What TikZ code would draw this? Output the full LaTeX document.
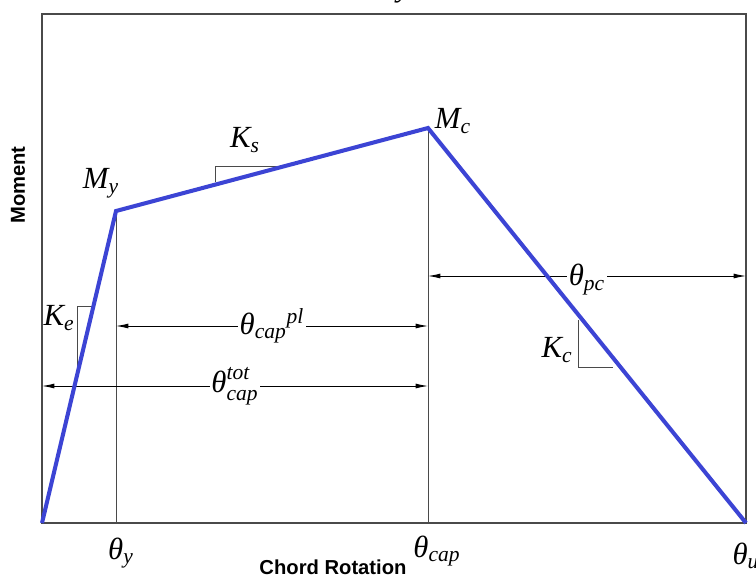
\documentclass[tikz,border=0pt]{standalone}
\usepackage{fontspec}
\setmainfont{Liberation Serif}
\setsansfont{Liberation Sans}
\usepackage{amsmath}
\usepackage{xcolor}
\definecolor{CurveBlue}{HTML}{3C44D4}
\definecolor{FrameGray}{HTML}{4A4A4A}
\usepackage{tikz}
\usetikzlibrary{arrows.meta,positioning}

\begin{document}
\begin{tikzpicture}[x=0.02cm, y=-0.02cm, >={Latex[length=7pt,width=2.8pt]},
  every node/.style={inner sep=1pt, font=\fontsize{17.5}{20}\selectfont},
  axis/.style={font=\sffamily\bfseries\fontsize{11.5}{13}\selectfont},
  guide/.style={FrameGray, line width=0.5pt},
  dim/.style={<->, line width=0.5pt}]
  \useasboundingbox (0,0) rectangle (756,576);
  \coordinate (O) at (42,523);
  \coordinate (T) at (746,14);
  \coordinate (Y) at (116,211);
  \coordinate (C) at (428,128);
  \coordinate (U) at (746,523);
  \coordinate (pc) at (0,276);
  \coordinate (pl) at (0,326);
  \coordinate (tot) at (0,386);
  % frame and guides
  \draw[guide, line width=0.7pt] (O) rectangle (T);
  \draw[guide] (Y) -- (Y |- O);
  \draw[guide] (C) -- (C |- O);
  % dimension lines
  \draw[dim] (C |- pc) -- node[fill=white, yshift=-2pt] {$\textit{θ}_{\textit{pc}}$} (U |- pc);
  \draw[dim] (Y |- pl) -- node[fill=white] {$\textit{θ}_{\textit{cap}}{}^{\textit{pl}}$} (C |- pl);
  \draw[dim] (O |- tot) -- node[fill=white] {$\textit{θ}^{\textit{tot}}_{\textit{cap}}$} (C |- tot);
  % slope marks
  \draw[guide] (77,370) -- (77,306) -- (92,306);
  \draw[guide] (215,182) -- (215,166) -- (280,166);
  \draw[guide] (578,320) -- (578,367) -- (613,367);
  % backbone curve
  \draw[CurveBlue, line width=2.3pt, line join=miter] (O) -- (Y) -- (C) -- (U);
  % labels
  \node (my) at (101,183) {$\textit{M}_{\textit{y}}$};
  \node (mc) at (453,121) {$\textit{M}_{\textit{c}}$};
  \node (ke) at (59,318) {$\textit{K}_{\textit{e}}$};
  \node (ks) at (245,140) {$\textit{K}_{\textit{s}}$};
  \node (kc) at (557,350) {$\textit{K}_{\textit{c}}$};
  \node (ty) at (121,553) {$\textit{θ}_{\textit{y}}$};
  \node (tcap) at (437,551) {$\textit{θ}_{\textit{cap}}$};
  \node (tu) at (746,556) {$\textit{θ}_{\textit{u}}$};
  \node (top) at (404,-7) {\textit{y}};
  \node[axis] (xlab) at (333,567) {Chord Rotation};
  \node[axis, rotate=90] (ylab) at (18,185) {Moment};
\end{tikzpicture}
\end{document}
